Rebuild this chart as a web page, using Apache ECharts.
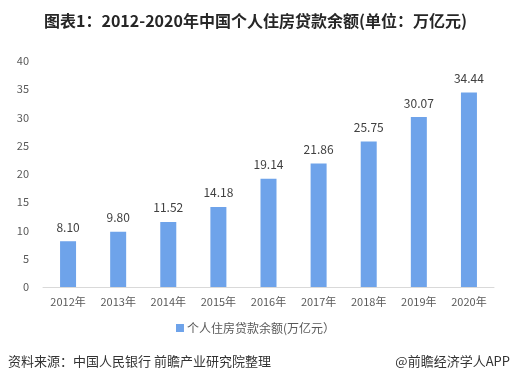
<!DOCTYPE html>
<html><head><meta charset="utf-8">
<script src="https://cdn.jsdelivr.net/npm/echarts@6/dist/echarts.min.js"></script>
<style>html,body{margin:0;padding:0;background:#fff}#c{width:511px;height:385px}</style>
</head><body><div id="c"></div>
<script>
const categories = ['2012年','2013年','2014年','2015年','2016年','2017年','2018年','2019年','2020年'];
const values = [8.10, 9.80, 11.52, 14.18, 19.14, 21.86, 25.75, 30.07, 34.44];
const seriesName = '个人住房贷款余额(万亿元）';
const titleText = '图表1：2012-2020年中国个人住房贷款余额(单位：万亿元)';
const sourceText = '资料来源：中国人民银行 前瞻产业研究院整理';
const brandText = '@前瞻经济学人APP';

const chart = echarts.init(document.getElementById('c'), null, {renderer:'canvas'});
chart.setOption({
  animation:false,
  backgroundColor:'#fff',
  textStyle:{fontFamily:'"Noto Sans CJK SC", sans-serif'},
  title:{text:titleText, left:'center', top:8,
    textStyle:{fontSize:16, fontWeight:'bold', color:'#262626', fontFamily:'"Noto Sans CJK SC", sans-serif'}},
  graphic:[
    {type:'text', left:8, top:355, style:{text:sourceText, font:'13px "Noto Sans CJK SC"', fill:'#333'}},
    {type:'text', right:1, top:355, style:{text:brandText, font:'13px "Noto Sans CJK SC"', fill:'#333'}}
  ],
  legend:{data:[seriesName], top:317, left:'center', itemWidth:8, itemHeight:8, icon:'rect', itemGap:4,
    textStyle:{fontSize:12, color:'#595959', padding:[0,0,0,-2]}},
  grid:{left:43, right:17, top:61, bottom:98},
  xAxis:{type:'category', data:categories,
    axisLine:{lineStyle:{color:'#d9d9d9'}}, axisTick:{show:false},
    axisLabel:{fontSize:11, color:'#595959', margin:9}},
  yAxis:{type:'value', min:0, max:40, interval:5,
    splitLine:{show:false}, axisLine:{show:false}, axisTick:{show:false},
    axisLabel:{fontSize:11, color:'#595959', margin:14}},
  series:[{name:seriesName, type:'bar', data:values, barWidth:16,
    itemStyle:{color:'#6EA3EA'},
    label:{show:true, position:'top', distance:8, fontSize:12, color:'#404040',
      formatter:p=>p.value.toFixed(2)}}]
});
</script></body></html>
